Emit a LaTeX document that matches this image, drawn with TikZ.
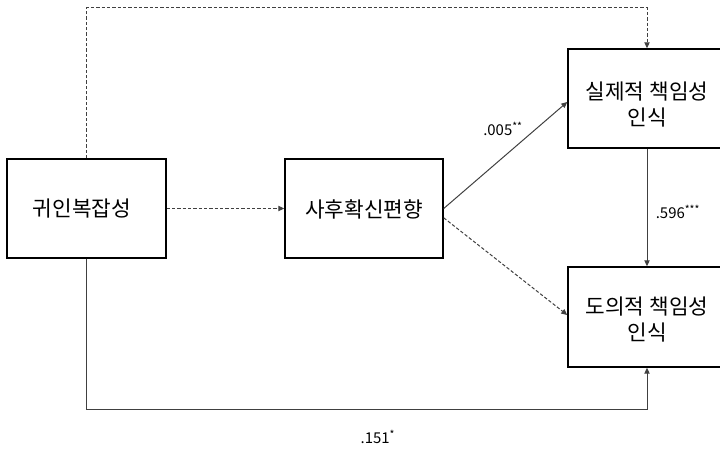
\documentclass[tikz,border=0pt]{standalone}
\usepackage{fontspec}
\setmainfont{Noto Sans CJK KR}
\usetikzlibrary{arrows.meta,calc}
\begin{document}
\begin{tikzpicture}[x=0.75pt,y=-0.75pt,
  box/.style={draw=black,line width=1.1pt,rectangle,inner sep=0pt,
    minimum height=74.25pt},
  txt/.style={font=\fontsize{16pt}{19pt}\selectfont,align=center,inner sep=0pt},
  conn/.style={draw=black!75,line width=0.75pt,-{Triangle[length=4.5pt,width=4pt]}},
  dconn/.style={conn,dash pattern=on 2.5pt off 1.5pt},
  lbl/.style={font=\fontsize{11.2pt}{13pt}\selectfont,inner sep=0pt}]
\useasboundingbox (0,0) rectangle (720,449);
\node[box,minimum width=119.25pt] (A) at (86.5,208.5) {};
\node[box,minimum width=118.5pt] (B) at (364,208.5) {};
\node[box,minimum width=118.5pt] (C) at (647,98.5) {};
\node[box,minimum width=118.5pt,minimum height=75pt] (D) at (647,317) {};
\node[txt] (At) at (82,209) {귀인복잡성};
\node[txt] (Bt) at (364,209) {사후확신편향};
\node[txt] (Ct) at (647,104.5) {실제적 책임성\\인식};
\node[txt] (Dt) at (647,319.5) {도의적 책임성\\인식};
\coordinate (tl) at (86.5,8);
\coordinate (bl) at (86.5,409);
\draw[dconn] (A) -- (B);
\draw[dconn] (A.north) -- (tl) -| (C.north);
\draw[conn] (A.south) -- (bl) -| (D.south);
\draw[conn] (B.east) -- ([yshift=-2.6pt]C.west);
\draw[dconn] ([yshift=-7pt]B.east) -- ([yshift=1.5pt]D.west);
\draw[conn] (C.south) -- (D.north);
\node[lbl] (l1) at (503,129) {.005\textsuperscript{**}};
\node[lbl] (l2) at (678,212) {.596\textsuperscript{***}};
\node[lbl] (l3) at (378,437) {.151\textsuperscript{*}};
\end{tikzpicture}
\end{document}
